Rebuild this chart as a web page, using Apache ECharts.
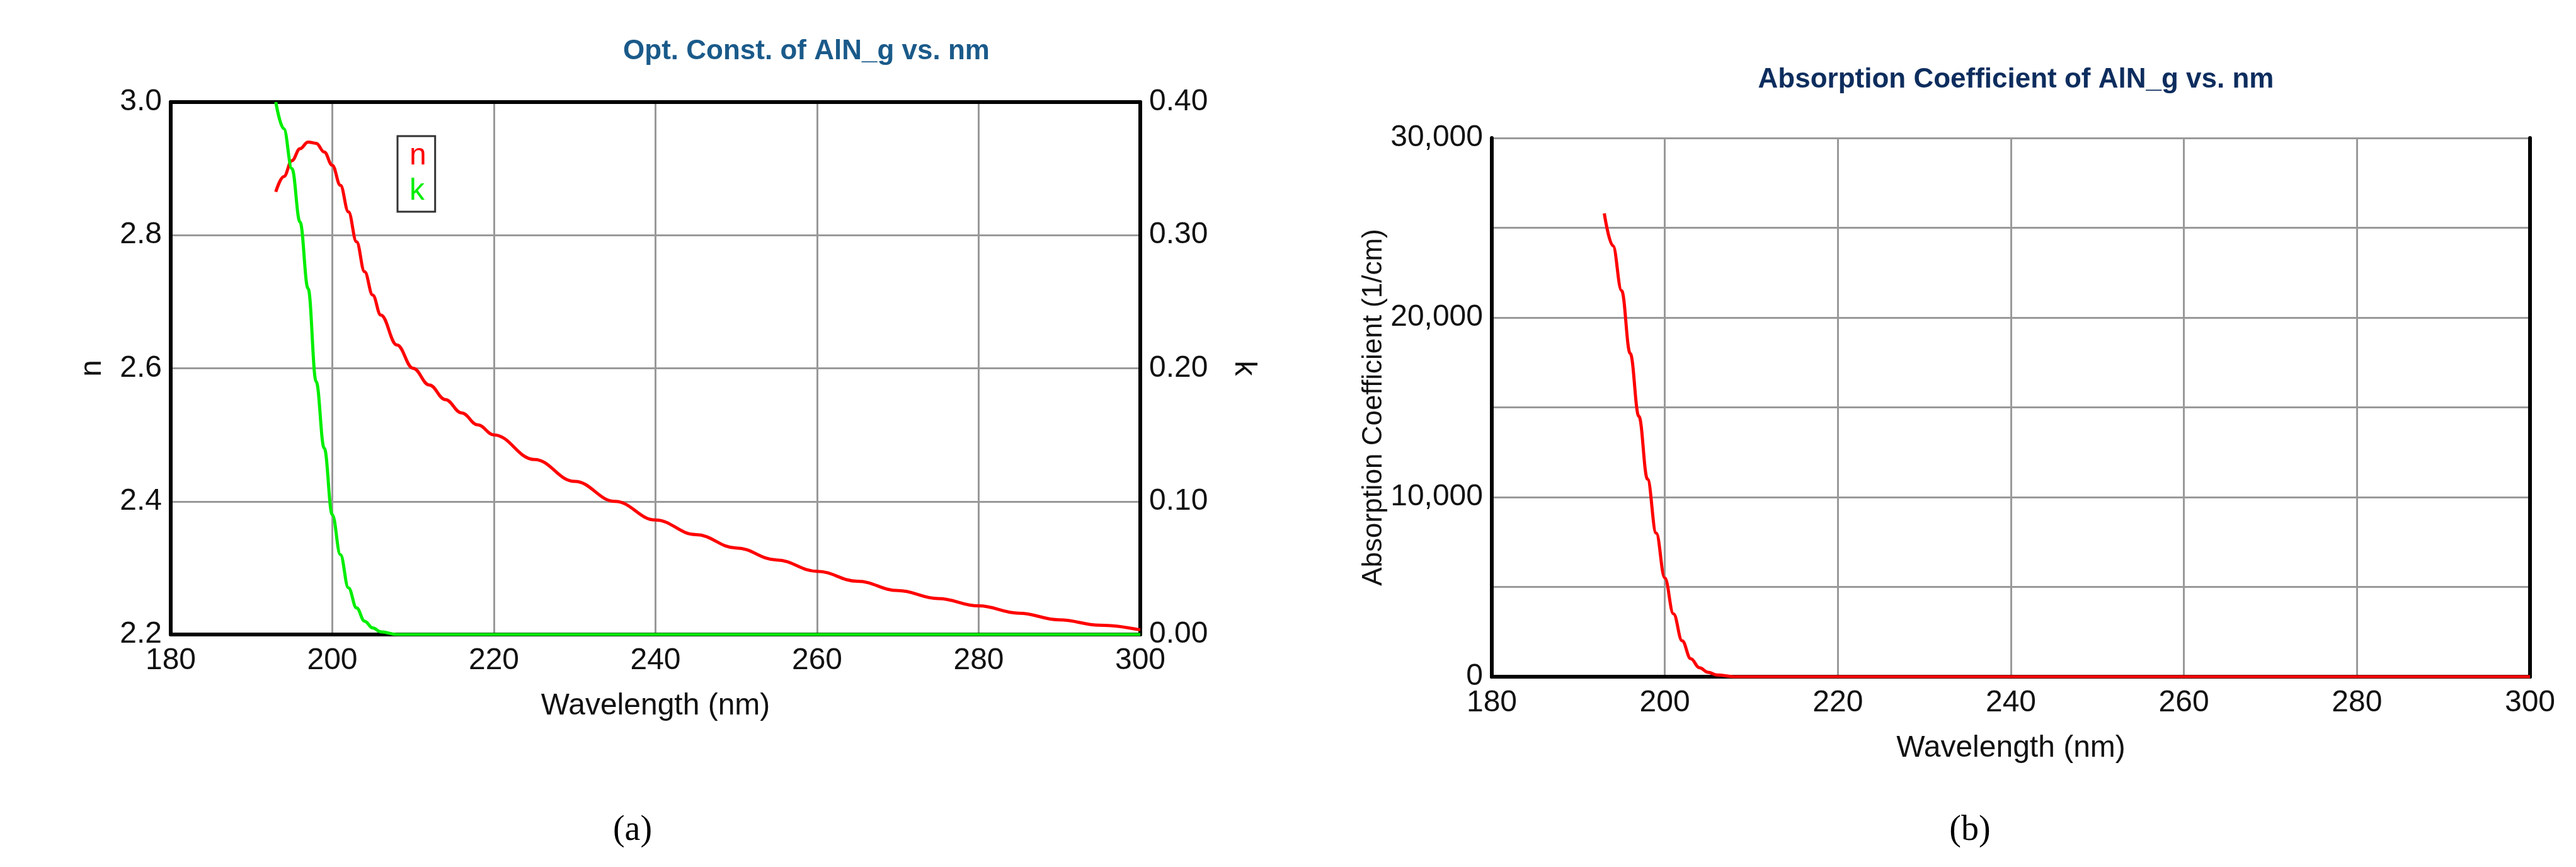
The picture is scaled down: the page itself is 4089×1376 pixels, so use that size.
<!DOCTYPE html><html><head><meta charset="utf-8"><script src="https://cdn.jsdelivr.net/npm/echarts@6/dist/echarts.min.js"></script>
<style>body{margin:0;background:#fff}#c{width:4089px;height:1376px}</style></head><body><div id="c"></div><script>
const nData=[[193,2.865],[194,2.888],[195,2.912],[196,2.93],[197,2.94],[198,2.938],[199,2.925],[200,2.905],[201,2.875],[202,2.835],[203,2.79],[204,2.745],[205,2.71],[206,2.68],[208,2.635],[210,2.60],[212,2.575],[214,2.553],[216,2.533],[218,2.515],[220,2.50],[225,2.463],[230,2.43],[235,2.40],[240,2.372],[245,2.35],[250,2.33],[255,2.312],[260,2.295],[265,2.28],[270,2.266],[275,2.254],[280,2.243],[285,2.232],[290,2.222],[295,2.214],[300,2.207]];
const kData=[[193,0.40],[194,0.38],[195,0.35],[196,0.31],[197,0.26],[198,0.19],[199,0.14],[200,0.09],[201,0.06],[202,0.035],[203,0.02],[204,0.01],[205,0.005],[206,0.002],[208,0],[300,0]];
const aData=[[193,25800],[194,24000],[195,21500],[196,18000],[197,14500],[198,11000],[199,8000],[200,5500],[201,3500],[202,2000],[203,1000],[204,500],[205,250],[206,100],[208,0],[300,0]];
const ff='Liberation Sans Narrow, Liberation Sans, sans-serif';
const lab={fontFamily:ff,fontSize:48,color:'#111'};
const gl={show:true,lineStyle:{color:'#999',width:3}};
const al={show:true,lineStyle:{color:'#000',width:6}};
const c=echarts.init(document.getElementById('c'));
c.setOption({animation:false,
title:[{text:'Opt. Const. of AlN_g vs. nm',left:1275,top:55,textAlign:'center',textStyle:{fontFamily:ff,fontSize:44,fontWeight:'bold',color:'#1a5a8a'}},
{text:'Absorption Coefficient of AlN_g vs. nm',left:3195,top:100,textAlign:'center',textStyle:{fontFamily:ff,fontSize:44,fontWeight:'bold',color:'#0d2d5e'}},
{text:'(a)',left:999,top:1285,textAlign:'center',textStyle:{fontFamily:'Liberation Serif',fontSize:56,fontWeight:'normal',color:'#000'}},
{text:'(b)',left:3122,top:1285,textAlign:'center',textStyle:{fontFamily:'Liberation Serif',fontSize:56,fontWeight:'normal',color:'#000'}}],
grid:[{left:271,right:4089-1810,top:162,bottom:1376-1007},{left:2368,right:4089-4016,top:219,bottom:1376-1074}],
legend:{left:631,top:216,orient:'vertical',itemWidth:0,itemHeight:0,itemGap:8,icon:'none',borderColor:'#333',borderWidth:3,padding:[8,14],textStyle:{fontFamily:ff,fontSize:48},selectedMode:false,
 data:[{name:'n',textStyle:{color:'#f00'}},{name:'k',textStyle:{color:'#0e0'}}]},
xAxis:[{gridIndex:0,type:'value',min:180,max:300,interval:20,axisLine:al,axisTick:{show:false},splitLine:gl,axisLabel:Object.assign({margin:18},lab),name:'Wavelength (nm)',nameLocation:'middle',nameGap:90,nameTextStyle:lab},
{gridIndex:0,type:'value',position:'top',min:180,max:300,axisLine:al,axisLabel:{show:false},axisTick:{show:false},splitLine:{show:false}},
{gridIndex:1,type:'value',min:180,max:300,interval:20,axisLine:al,axisTick:{show:false},splitLine:gl,axisLabel:Object.assign({margin:18},lab),name:'Wavelength (nm)',nameLocation:'middle',nameGap:90,nameTextStyle:lab},
{gridIndex:1,type:'value',position:'top',min:180,max:300,axisLine:al,axisLabel:{show:false},axisTick:{show:false},splitLine:{show:false}}],
yAxis:[{gridIndex:0,type:'value',min:2.2,max:3.0,interval:0.2,axisLine:al,axisTick:{show:false},splitLine:gl,axisLabel:Object.assign({formatter:v=>v.toFixed(1),margin:14},lab),name:'n',nameLocation:'middle',nameGap:100,nameTextStyle:lab},
{gridIndex:0,type:'value',position:'right',min:0,max:0.4,interval:0.1,axisLine:al,axisTick:{show:false},splitLine:{show:false},axisLabel:Object.assign({formatter:v=>v.toFixed(2),margin:14},lab),name:'k',nameLocation:'middle',nameGap:140,nameRotate:-90,nameTextStyle:lab},
{gridIndex:1,type:'value',min:0,max:30000,interval:5000,axisLine:al,axisTick:{show:false},splitLine:gl,axisLabel:Object.assign({formatter:v=>v%10000===0?v.toLocaleString('en-US'):'',margin:14},lab),name:'Absorption Coefficient (1/cm)',nameLocation:'middle',nameGap:160,nameTextStyle:{fontFamily:'Liberation Sans, sans-serif',fontSize:44,color:'#111'}},
{gridIndex:1,type:'value',position:'right',min:0,max:30000,axisLine:al,axisTick:{show:false},splitLine:{show:false},axisLabel:{show:false}}],
series:[
{name:'n',type:'line',xAxisIndex:0,yAxisIndex:0,data:nData,smooth:0.4,smoothMonotone:'x',showSymbol:false,lineStyle:{color:'#f00',width:5},itemStyle:{color:'#f00'}},
{name:'k',type:'line',xAxisIndex:0,yAxisIndex:1,data:kData,smooth:0.4,smoothMonotone:'x',showSymbol:false,lineStyle:{color:'#0e0',width:5},itemStyle:{color:'#0e0'},z:3},
{name:'alpha',type:'line',xAxisIndex:2,yAxisIndex:2,data:aData,smooth:0.4,smoothMonotone:'x',showSymbol:false,lineStyle:{color:'#f00',width:5}}]
});
</script></body></html>
